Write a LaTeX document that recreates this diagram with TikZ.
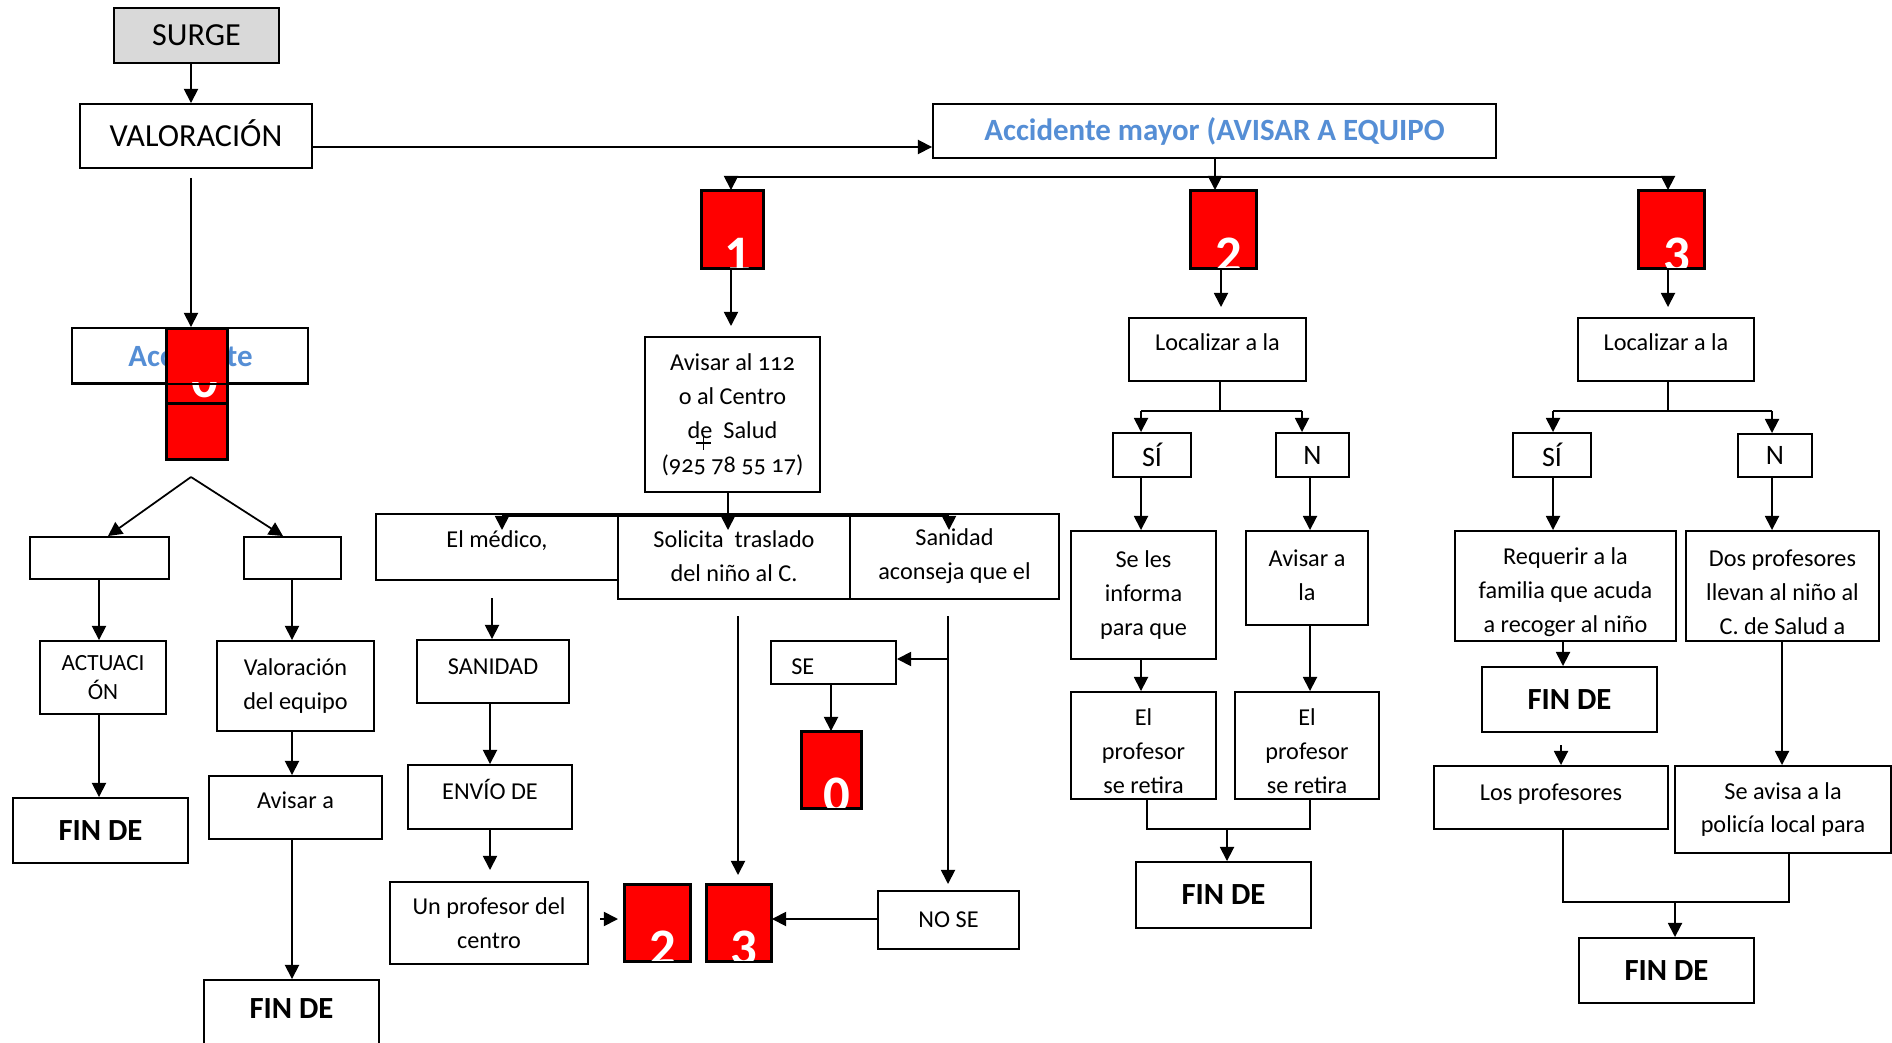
\documentclass[tikz,border=0pt]{standalone}
\usepackage{fontspec}
\setmainfont{Carlito}
\usetikzlibrary{arrows.meta}
\definecolor{sgray}{RGB}{217,217,217}
\definecolor{ablue}{RGB}{85,142,213}
\definecolor{rred}{RGB}{255,0,0}
\newcommand\dgbody{\fontsize{13.8}{19.3}\selectfont}
\newcommand\dgbig{\fontsize{18.3}{22}\selectfont}
\newcommand\dgmid{\fontsize{16}{20}\selectfont}
\newcommand\dgfin{\fontsize{17.5}{21}\selectfont\bfseries}
\newcommand\dgdig{\fontsize{30}{30}\selectfont\bfseries}
\newcommand\dgsmall{\fontsize{13.2}{17}\selectfont}
\newcommand\dgbluef{\fontsize{17.6}{21}\selectfont\bfseries}
% box by pixel corners: [opts]{name}{x1}{y1}{x2}{y2}{text}
\newcommand\bx[7][]{%
  \node[box,minimum width={(#5-#3)*0.02cm},minimum height={(#6-#4)*0.02cm},#1]
    (#2) at ({(#3+#5)/2},{(#4+#6)/2}) {#7};}
% box with its text shifted down by dy pixels: [font]{name}{x1}{y1}{x2}{y2}{dy}{text}
\newcommand\bxt[8][]{%
  \node[box,minimum width={(#5-#3)*0.02cm},minimum height={(#6-#4)*0.02cm}]
    (#2) at ({(#3+#5)/2},{(#4+#6)/2}) {};
  \node[txt,#1] (#2t) at ({(#3+#5)/2},{(#4+#6)/2+#7}) {#8};}
\newcommand\redbox[6]{%
  \node[rbox,minimum width={(#4-#2)*0.02cm},minimum height={(#5-#3)*0.02cm}]
    (#1) at ({(#2+#4)/2},{(#3+#5)/2}) {};
  \begin{scope}
    \clip (#1.south west) rectangle (#1.north east);
    \node[dig] (#1d) at ([xshift=0.1cm,yshift=-0.08cm]#1.south) {#6};
  \end{scope}
  \draw[line width=1.1pt] (#1.south west) rectangle (#1.north east);}
\begin{document}
\begin{tikzpicture}[x=0.02cm,y=-0.02cm,
  box/.style={draw=black,line width=1.1pt,fill=white,inner sep=0pt,align=center,font=\dgbody},
  rbox/.style={draw=black,line width=1.1pt,fill=rred,inner sep=0pt},
  dig/.style={inner sep=0pt,text=white,font=\dgdig,anchor=base},
  arr/.style={line width=1pt,-{Triangle[length=8pt,width=8pt]}},
  ln/.style={line width=1pt},
  txt/.style={inner sep=0pt,align=center,font=\dgbody},
]
\useasboundingbox (0,0) rectangle (1892,1043);

% ---------- top ----------
\bx[fill=sgray,font=\dgbig]{surge}{114}{8}{279}{63}{SURGE}
\bxt[font=\dgbig]{valor}{80}{104}{312}{168}{-3}{VALORACIÓN}
\bx[font=\dgbluef,text=ablue]{accmay}{933}{104}{1496}{158}{Accidente mayor (AVISAR A EQUIPO}

% ---------- left column ----------
\bx{accl}{72}{328}{308}{383}{}
\node[txt,font=\dgbluef,text=ablue,anchor=base west] (accla) at (128,367) {Acc};
\node[txt,font=\dgbluef,text=ablue,anchor=base east] (acclb) at (253,367) {te};
\redbox{r0a}{167}{329}{227}{404}{}
\begin{scope}
  \clip (167,383) rectangle (227,404);
  \node[dig] (r0ad) at (205,398) {0};
\end{scope}
\draw[line width=1.1pt] (accl.south west) -- (accl.south east);
\redbox{r0b}{167}{404}{227}{459}{}

\bx{lb}{30}{537}{169}{579}{}
\bx{rb}{244}{537}{341}{579}{}
\bx[font=\dgsmall]{actu}{40}{641}{166}{714}{ACTUACI\\ÓN}
\bx{valeq}{217}{641}{374}{731}{Valoración\\del equipo}
\bx[font=\dgfin]{finL}{13}{798}{188}{863}{FIN DE}
\bx{avisa}{209}{776}{382}{839}{}
\node[txt,anchor=base] (tavisa) at (295.5,808) {Avisar a};
\bx{finR}{204}{980}{379}{1050}{}
\node[txt,font=\dgfin,anchor=base] (tfinR) at (291.5,1018) {FIN DE};

% ---------- branch 1 ----------
\redbox{r1}{702}{191}{763}{268}{1}
\bx{av112}{645}{337}{820}{492}{Avisar al {\addfontfeatures{Numbers=OldStyle}112}\\o al Centro\\de\ \ Salud\\{\addfontfeatures{Numbers=OldStyle}(925 78 55 17)}}
\draw[line width=0.8pt] (696,443) -- (711,443) (703.5,436) -- (703.5,450);
\bx{med}{376}{514}{618}{580}{}
\node[txt,anchor=base] (tmed) at (497,547) {El médico,};
\bx{sol}{618}{514}{850}{599}{Solicita\ \ traslado\\del niño al C.}
\bx{san}{850}{514}{1059}{599}{Sanidad\\aconseja que el}
\bxt{sanid}{417}{640}{569}{703}{-5}{SANIDAD}
\bxt{envio}{408}{765}{572}{829}{-8}{ENVÍO DE}
\bx{unprof}{390}{882}{588}{964}{Un profesor del\\centro}
\redbox{rb2}{625}{885}{690}{961}{2}
\redbox{rb3}{707}{885}{771}{961}{3}
\bx{nose}{878}{891}{1019}{949}{NO SE}
\bx{se}{771}{641}{896}{684}{}
\node[txt,anchor=base west] (tse) at (791,674) {SE};
\redbox{r0c}{802}{732}{861}{808}{0}

% ---------- branch 2 ----------
\redbox{r2}{1191}{191}{1256}{268}{2}
\bx{loc2}{1129}{318}{1306}{381}{}
\node[txt,anchor=base] (tloc2) at (1217.5,351) {Localizar a la};
\bx[font=\dgmid]{si2}{1113}{433}{1191}{477}{SÍ}
\bx[font=\dgmid]{n2}{1276}{433}{1349}{477}{N}
\bx{seles}{1071}{531}{1216}{659}{Se les\\informa\\para que}
\bxt{avla}{1246}{531}{1368}{625}{-3}{Avisar a\\la}
\bxt{profL}{1071}{692}{1216}{799}{6}{El\\profesor\\se retira}
\bxt{profR}{1235}{692}{1379}{799}{6}{El\\profesor\\se retira}
\bx[font=\dgfin]{finM}{1136}{862}{1311}{928}{FIN DE}

% ---------- branch 3 ----------
\redbox{r3}{1639}{191}{1704}{268}{3}
\bx{loc3}{1578}{318}{1754}{381}{}
\node[txt,anchor=base] (tloc3) at (1666,351) {Localizar a la};
\bx[font=\dgmid]{si3}{1513}{433}{1591}{477}{SÍ}
\bx[font=\dgmid]{n3}{1738}{434}{1812}{477}{N}
\bxt{req}{1455}{531}{1676}{641}{6}{Requerir a la\\familia que acuda\\a recoger al niño}
\bxt{dos}{1686}{531}{1879}{641}{6}{Dos profesores\\llevan al niño al\\C. de Salud a}
\bx[font=\dgfin]{fin3}{1482}{667}{1657}{732}{FIN DE}
\bx{los}{1434}{766}{1668}{829}{}
\node[txt,anchor=base] (tlos) at (1551,800) {Los profesores};
\bx{seav}{1675}{766}{1891}{853}{Se avisa a la\\policía local para}
\bx[font=\dgfin]{fin4}{1579}{938}{1754}{1003}{FIN DE}

% ---------- connectors: top ----------
\draw[arr] (surge.south -| 191,0) -- (valor.north -| 191,0);
\draw[arr] (valor.east |- 0,147) -- (accmay.west |- 0,147);
\coordinate (j1) at (731,177);
\coordinate (j3) at (1668,177);
\draw[ln] (j1) -- (j3);
\draw[arr] (j1) -- (r1.north -| j1);
\draw[arr] (j3) -- (r3.north -| j3);
\draw[arr] (accmay.south -| 1215,0) -- (r2.north -| 1215,0);

% ---------- connectors: left ----------
\coordinate (v1) at (191,178);
\draw[arr] (v1) -- (accl.north -| v1);
\coordinate (apex) at (191,477);
\draw[arr] (apex) -- (lb.north -| 108,0);
\draw[arr] (apex) -- (rb.north -| 283,0);
\draw[arr] (lb.south -| 99,0) -- (actu.north -| 99,0);
\draw[arr] (rb.south -| 292,0) -- (valeq.north -| 292,0);
\draw[arr] (actu.south -| 99,0) -- (finL.north -| 99,0);
\draw[arr] (valeq.south -| 292,0) -- (avisa.north -| 292,0);
\draw[arr] (avisa.south -| 292,0) -- (finR.north -| 292,0);

% ---------- connectors: branch 1 ----------
\coordinate (e1) at (731,326);
\draw[arr] (r1.south -| e1) -- (e1);
\coordinate (c1t) at (728,530);
\coordinate (c1l) at (502,516);
\coordinate (c1r) at (949,516);
\coordinate (c1lt) at (502,530);
\coordinate (c1rt) at (949,530);
\draw[arr] (av112.south -| c1t) -- (c1t);
\draw[ln] (c1l) -- (c1r);
\draw[arr] (c1l) -- (c1lt);
\draw[arr] (c1r) -- (c1rt);
\coordinate (d1) at (492,598);
\draw[arr] (d1) -- (sanid.north -| d1);
\draw[arr] (sanid.south -| 490,0) -- (envio.north -| 490,0);
\coordinate (d3) at (490,870);
\draw[arr] (envio.south -| d3) -- (d3);
\coordinate (d4a) at (600,919);
\coordinate (d4b) at (618,919);
\draw[arr] (d4a) -- (d4b);
\coordinate (d5a) at (738,616);
\coordinate (d5b) at (738,875);
\draw[arr] (d5a) -- (d5b);
\coordinate (d6a) at (948,616);
\coordinate (d6b) at (948,884);
\draw[arr] (d6a) -- (d6b);
\coordinate (d7) at (948,659);
\draw[arr] (d7) -- (se.east |- d7);
\draw[arr] (se.south -| 831,0) -- (r0c.north -| 831,0);
\draw[arr] (nose.west |- 0,919) -- (rb3.east |- 0,919);

% ---------- connectors: branch 2 ----------
\coordinate (e2) at (1221,307);
\draw[arr] (r2.south -| e2) -- (e2);
\coordinate (b2) at (1220,411);
\coordinate (b2l) at (1141,411);
\coordinate (b2r) at (1302,411);
\draw[ln] (loc2.south -| b2) -- (b2);
\draw[ln] (b2l) -- (b2r);
\draw[arr] (b2l) -- (si2.north -| b2l);
\draw[arr] (b2r) -- (n2.north -| b2r);
\draw[arr] (si2.south -| 1141,0) -- (seles.north -| 1141,0);
\draw[arr] (n2.south -| 1310,0) -- (avla.north -| 1310,0);
\draw[arr] (seles.south -| 1141,0) -- (profL.north -| 1141,0);
\draw[arr] (avla.south -| 1310,0) -- (profR.north -| 1310,0);
\coordinate (m2) at (1227,829);
\draw[ln] (profL.south -| 1147,0) |- (m2) -| (profR.south -| 1310,0);
\draw[arr] (m2) -- (finM.north -| m2);

% ---------- connectors: branch 3 ----------
\coordinate (e3) at (1668,307);
\draw[arr] (r3.south -| e3) -- (e3);
\coordinate (b3) at (1668,411);
\coordinate (b3l) at (1553,411);
\coordinate (b3r) at (1772,411);
\draw[ln] (loc3.south -| b3) -- (b3);
\draw[ln] (b3l) -- (b3r);
\draw[arr] (b3l) -- (si3.north -| b3l);
\draw[arr] (b3r) -- (n3.north -| b3r);
\draw[arr] (si3.south -| b3l) -- (req.north -| b3l);
\draw[arr] (n3.south -| b3r) -- (dos.north -| b3r);
\draw[arr] (req.south -| 1563,0) -- (fin3.north -| 1563,0);
\coordinate (s3) at (1561,745);
\draw[arr] (s3) -- (los.north -| s3);
\draw[arr] (dos.south -| 1782,0) -- (seav.north -| 1782,0);
\coordinate (m3) at (1675,902);
\draw[ln] (los.south -| 1563,0) |- (m3) -| (seav.south -| 1789,0);
\draw[arr] (m3) -- (fin4.north -| m3);
\end{tikzpicture}
\end{document}
